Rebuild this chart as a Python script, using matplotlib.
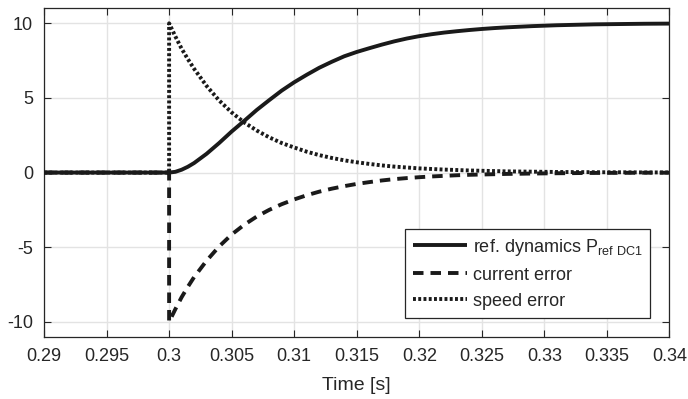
import matplotlib
matplotlib.use("Agg")
from matplotlib import pyplot as plt

plt.rcParams['font.family'] = ['Liberation Sans', 'DejaVu Sans']
plt.rcParams['mathtext.fontset'] = 'custom'
plt.rcParams['mathtext.rm'] = 'Liberation Sans'
plt.rcParams['axes.unicode_minus'] = False

# sample times [s]; 0.3 appears twice for the step
time = [0.29, 0.3,
        0.3, 0.3005, 0.301, 0.3015, 0.302, 0.303, 0.304, 0.305, 0.306, 0.307, 0.308, 0.309,
        0.31, 0.311, 0.312, 0.313, 0.314, 0.315, 0.316, 0.317, 0.318, 0.319,
        0.32, 0.321, 0.322, 0.323, 0.324, 0.325, 0.326, 0.327, 0.328, 0.329,
        0.33, 0.331, 0.332, 0.333, 0.334, 0.335, 0.336, 0.337, 0.338, 0.339,
        0.34]

ref_dyn = [0, 0,
           0, 0.05, 0.19, 0.39, 0.64, 1.26, 1.98, 2.75, 3.46, 4.19, 4.85, 5.49,
           6.05, 6.55, 7.02, 7.42, 7.79, 8.08, 8.33, 8.57, 8.79, 8.98,
           9.14, 9.27, 9.38, 9.47, 9.55, 9.62, 9.68, 9.73, 9.77, 9.81,
           9.84, 9.87, 9.89, 9.91, 9.93, 9.94, 9.95, 9.96, 9.97, 9.975,
           9.98]

current_err = [0, 0,
               -10, -9.15, -8.35, -7.65, -7.0, -5.9, -4.95, -4.15, -3.5, -2.95, -2.5, -2.12,
               -1.8, -1.52, -1.28, -1.08, -0.91, -0.76, -0.64, -0.53, -0.44, -0.37,
               -0.31, -0.26, -0.22, -0.18, -0.15, -0.13, -0.11, -0.09, -0.08, -0.065,
               -0.055, -0.045, -0.04, -0.03, -0.025, -0.02, -0.02, -0.015, -0.01, -0.01,
               -0.01]

speed_err = [0, 0,
             10, 9.12, 8.3, 7.6, 6.95, 5.8, 4.83, 4.03, 3.36, 2.82, 2.36, 1.98,
             1.68, 1.4, 1.17, 0.98, 0.82, 0.69, 0.58, 0.48, 0.4, 0.34,
             0.28, 0.24, 0.2, 0.17, 0.14, 0.12, 0.1, 0.08, 0.07, 0.06,
             0.05, 0.04, 0.035, 0.03, 0.025, 0.02, 0.02, 0.015, 0.01, 0.01,
             0.01]

x_ticks = [0.29, 0.295, 0.3, 0.305, 0.31, 0.315, 0.32, 0.325, 0.33, 0.335, 0.34]
x_labels = ['0.29', '0.295', '0.3', '0.305', '0.31', '0.315', '0.32', '0.325', '0.33', '0.335', '0.34']
y_ticks = [-10, -5, 0, 5, 10]

dark = '#262626'

fig = plt.figure(figsize=(6.88, 3.99), dpi=100)
ax = fig.add_axes([0.064, 0.156, 0.909, 0.823])

ax.plot(time, ref_dyn, color='#1a1a1a', lw=2.8, solid_capstyle='butt',
        label='ref. dynamics P$_{\\mathregular{ref\\ DC1}}$', zorder=3)
ax.plot(time, current_err, color='#1a1a1a', lw=2.8, dashes=(2.7, 1.8),
        label='current error', zorder=4)
ax.plot(time, speed_err, color='#1a1a1a', lw=2.8, dashes=(0.75, 0.6),
        label='speed error', zorder=4)

ax.set_xlim(0.29, 0.34)
ax.set_ylim(-11, 11)
ax.set_xticks(x_ticks)
ax.set_xticklabels(x_labels)
ax.set_yticks(y_ticks)
ax.grid(True, color='#e3e3e3', lw=1.0)
ax.set_axisbelow(True)

ax.tick_params(direction='in', top=True, right=True, length=5, width=0.8,
               colors=dark, labelsize=13, pad=8)
for s in ax.spines.values():
    s.set_color(dark)
    s.set_linewidth(0.9)

ax.set_xlabel('Time [s]', fontsize=14, color=dark, labelpad=9)

leg = ax.legend(loc='lower right', bbox_to_anchor=(0.984, 0.03), fontsize=13,
                fancybox=False, framealpha=1, edgecolor=dark,
                handlelength=3.0, handletextpad=0.3, labelspacing=0.5,
                borderpad=0.45)
leg.get_frame().set_linewidth(0.9)
for t in leg.get_texts():
    t.set_color(dark)

fig.savefig('out.png', dpi=100)
